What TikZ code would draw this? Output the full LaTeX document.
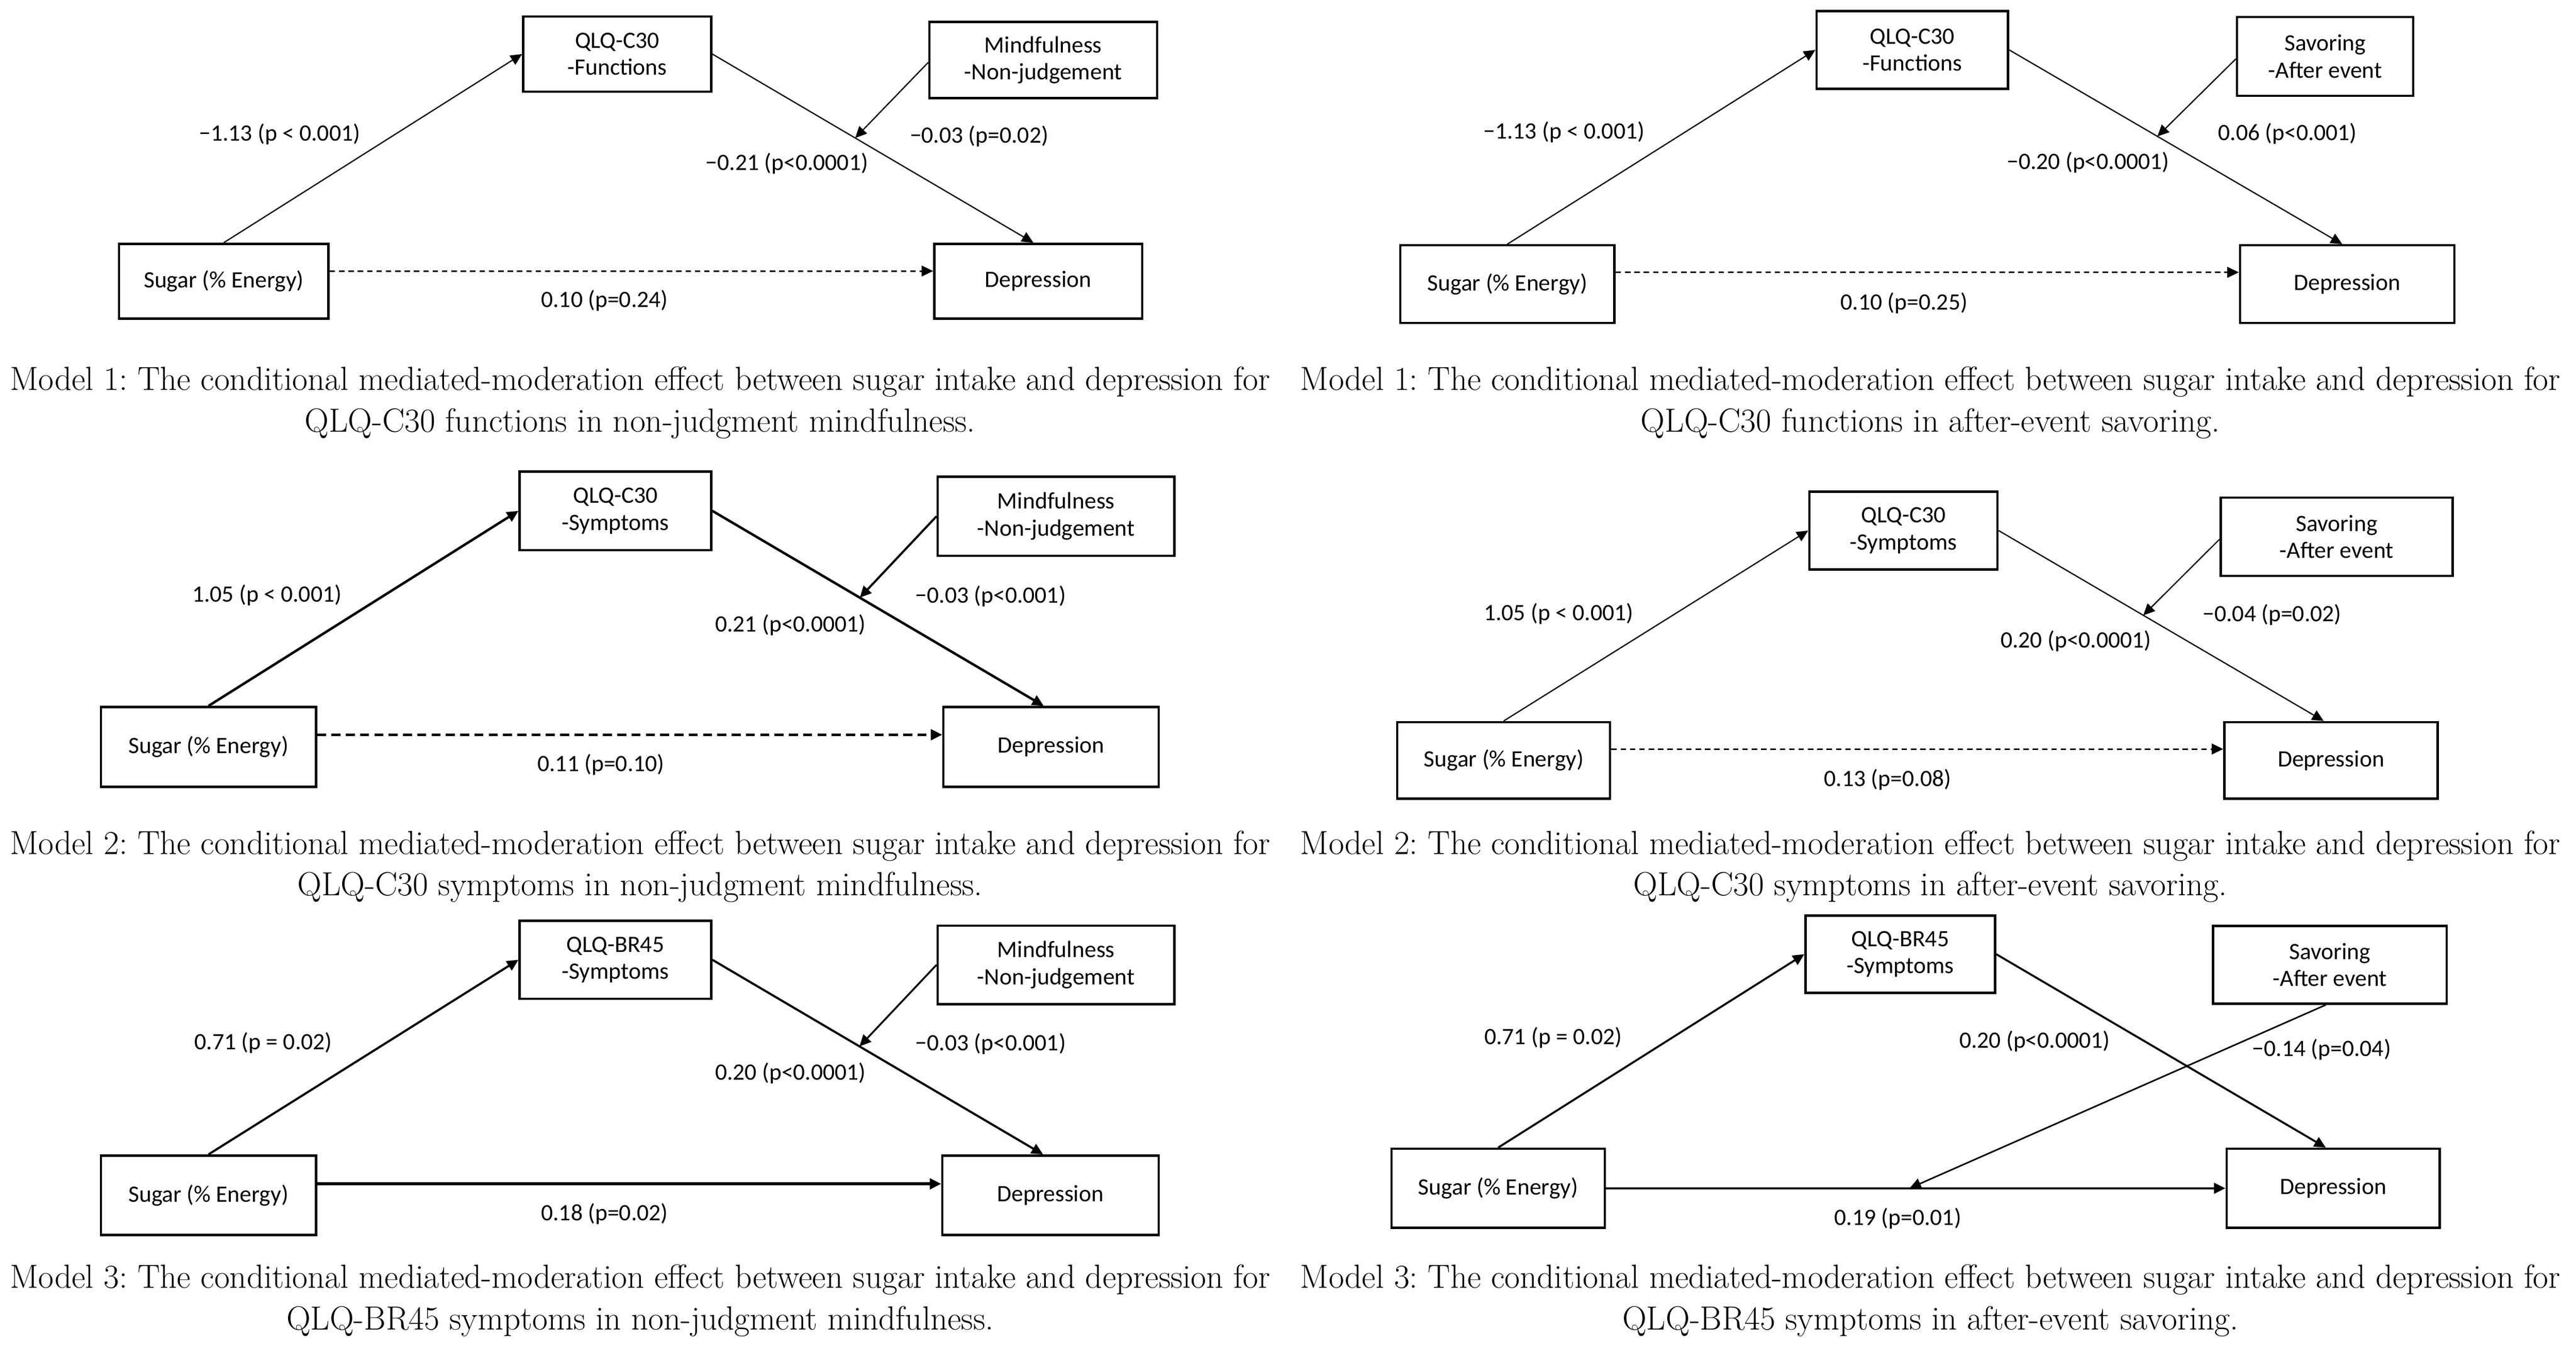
\documentclass[tikz,border=0pt]{standalone}
\usepackage{fontspec}
\usepackage{graphicx}
\newfontfamily\calibri{Carlito}
\usetikzlibrary{arrows.meta}
\newlength\capnat
\newcommand\captxt[1]{\scalebox{\capscale}{\fontsize{18}{19}\selectfont\frenchspacing #1}}
\begin{document}
\settowidth\capnat{\fontsize{18}{19}\selectfont\frenchspacing Model 1: The conditional mediated-moderation effect between sugar intake and depression for}%
\pgfmathsetmacro\capscaletmp{767/\capnat}%
\global\let\capscale\capscaletmp%
\begin{tikzpicture}[x=1pt,y=-1pt,
  >={Triangle[length=7pt,width=6.5pt]},
  box/.style={draw, line width=1.4pt, align=center, inner sep=0pt,
    font=\calibri\fontsize{14.3}{16.5}\selectfont},
  lbl/.style={inner sep=0pt, font=\calibri\fontsize{14.3}{16.5}\selectfont},
  capnode/.style={inner sep=0pt, anchor=base},
  lnA/.style={line width=0.75pt},
  dashA/.style={dash pattern=on 3.3pt off 2.4pt},
  dashB/.style={dash pattern=on 5.5pt off 3.2pt}]
\useasboundingbox (0,0) rectangle (1568,819.25);
\fill[white] (0,0) rectangle (1568,819.25);

% ---------------- Model 1 left ----------------
\node[box, minimum width=114.4pt, minimum height=45.7pt] (q1) at (375.7,32.9) {QLQ-C30\\-Functions};
\node[box, minimum width=138.6pt, minimum height=46.4pt] (m1) at (635,36.5) {Mindfulness\\-Non-judgement};
\node[box, minimum width=127.5pt, minimum height=45.5pt] (s1) at (136.2,171.2) {Sugar (\% Energy)};
\node[box, minimum width=126.6pt, minimum height=45.5pt] (d1) at (632,171.2) {Depression};
\draw[->, lnA] (s1.north) -- (q1.west);
\draw[->, lnA] (q1.east) -- ([xshift=-3pt]d1.north) coordinate[pos=0.445] (t1);
\draw[->, lnA] ([yshift=-1.5pt]m1.west) -- (t1);
\draw[->, line width=0.85pt, dashA] ([yshift=6.2pt]s1.east) -- ([yshift=6.2pt]d1.west);
\node[lbl] (l1a) at (170.2,81.6) {−1.13 (p < 0.001)};
\node[lbl] (l1m) at (596,83) {−0.03 (p=0.02)};
\node[lbl] (l1b) at (479,99.5) {−0.21 (p<0.0001)};
\node[lbl] (l1c) at (368,183) {0.10 (p=0.24)};

% ---------------- Model 1 right ----------------
\node[box, minimum width=116.6pt, minimum height=47.4pt] (q2) at (1164,30.4) {QLQ-C30\\-Functions};
\node[box, minimum width=107.2pt, minimum height=48pt] (v2) at (1415.3,34.3) {Savoring\\-After event};
\node[box, minimum width=130.4pt, minimum height=47.3pt] (s2) at (917.5,173) {Sugar (\% Energy)};
\node[box, minimum width=130.5pt, minimum height=47.3pt] (d2) at (1428.7,173) {Depression};
\draw[->, lnA] (s2.north) -- (q2.west);
\draw[->, lnA] (q2.east) -- ([xshift=-3pt]d2.north) coordinate[pos=0.445] (t2);
\draw[->, lnA] ([yshift=-1.5pt]v2.west) -- (t2);
\draw[->, line width=0.85pt, dashA] ([yshift=7.2pt]s2.east) -- ([yshift=7.2pt]d2.west);
\node[lbl] (l2a) at (952,80.5) {−1.13 (p < 0.001)};
\node[lbl] (l2m) at (1392.4,81.5) {0.06 (p<0.001)};
\node[lbl] (l2b) at (1271,99) {−0.20 (p<0.0001)};
\node[lbl] (l2c) at (1159,184.4) {0.10 (p=0.25)};

% ---------------- Model 2 left ----------------
\node[box, minimum width=116.6pt, minimum height=47.8pt] (q3) at (374.6,311) {QLQ-C30\\-Symptoms};
\node[box, minimum width=144.1pt, minimum height=48.2pt] (m3) at (642.8,314.3) {Mindfulness\\-Non-judgement};
\node[box, minimum width=130.9pt, minimum height=48.5pt] (s3) at (126.9,454.7) {Sugar (\% Energy)};
\node[box, minimum width=131.1pt, minimum height=48.5pt] (d3) at (639.8,454.7) {Depression};
\draw[->, line width=1.5pt] (s3.north) -- (q3.west);
\draw[->, line width=1.5pt] (q3.east) -- ([xshift=-4.5pt]d3.north) coordinate[pos=0.445] (t3);
\draw[->, line width=1.3pt] (m3.west) -- (t3);
\draw[->, line width=1.6pt, dashB] ([yshift=7.4pt]s3.east) -- ([yshift=7.4pt]d3.west);
\node[lbl] (l3a) at (162.5,362.3) {1.05 (p < 0.001)};
\node[lbl] (l3m) at (603,363) {−0.03 (p<0.001)};
\node[lbl] (l3b) at (481.2,380.6) {0.21 (p<0.0001)};
\node[lbl] (l3c) at (365.8,465.6) {0.11 (p=0.10)};

% ---------------- Model 2 right ----------------
\node[box, minimum width=114.5pt, minimum height=47.3pt] (q4) at (1158.6,323) {QLQ-C30\\-Symptoms};
\node[box, minimum width=141.2pt, minimum height=47.7pt] (v4) at (1422.3,326.8) {Savoring\\-After event};
\node[box, minimum width=129.5pt, minimum height=46.6pt] (s4) at (915.3,462.9) {Sugar (\% Energy)};
\node[box, minimum width=129.9pt, minimum height=46.6pt] (d4) at (1418.9,462.9) {Depression};
\draw[->, lnA] (s4.north) -- (q4.west);
\draw[->, lnA] (q4.east) -- ([xshift=-4.5pt]d4.north) coordinate[pos=0.445] (t4);
\draw[->, lnA] ([yshift=-1.5pt]v4.west) -- (t4);
\draw[->, line width=1pt, dashA] ([yshift=6.9pt]s4.east) -- ([yshift=6.9pt]d4.west);
\node[lbl] (l4a) at (948.7,373.5) {1.05 (p < 0.001)};
\node[lbl] (l4m) at (1383,374.2) {−0.04 (p=0.02)};
\node[lbl] (l4b) at (1263.6,390.4) {0.20 (p<0.0001)};
\node[lbl] (l4c) at (1149,474.7) {0.13 (p=0.08)};

% ---------------- Model 3 left ----------------
\node[box, minimum width=116.6pt, minimum height=47.5pt] (q5) at (374.6,584.3) {QLQ-BR45\\-Symptoms};
\node[box, minimum width=144.1pt, minimum height=47.9pt] (m5) at (642.8,587.4) {Mindfulness\\-Non-judgement};
\node[box, minimum width=130.9pt, minimum height=48.4pt] (s5) at (126.9,727.7) {Sugar (\% Energy)};
\node[box, minimum width=131.6pt, minimum height=48.4pt] (d5) at (639.4,727.7) {Depression};
\draw[->, line width=1.3pt] (s5.north) -- (q5.west);
\draw[->, line width=1.3pt] (q5.east) -- ([xshift=-4.5pt]d5.north) coordinate[pos=0.445] (t5);
\draw[->, line width=1.1pt] (m5.west) -- (t5);
\draw[->, line width=1.7pt] ([yshift=7pt]s5.east) -- ([yshift=7pt]d5.west);
\node[lbl] (l5a) at (160.3,635) {0.71 (p = 0.02)};
\node[lbl] (l5m) at (603,635.6) {−0.03 (p<0.001)};
\node[lbl] (l5b) at (481.2,653.5) {0.20 (p<0.0001)};
\node[lbl] (l5c) at (368,739.1) {0.18 (p=0.02)};

% ---------------- Model 3 right ----------------
\node[box, minimum width=115.4pt, minimum height=47pt] (q6) at (1156.7,580.9) {QLQ-BR45\\-Symptoms};
\node[box, minimum width=142.2pt, minimum height=47.3pt] (v6) at (1418.2,587.4) {Savoring\\-After event};
\node[box, minimum width=129.9pt, minimum height=48.1pt] (s6) at (911.9,723.4) {Sugar (\% Energy)};
\node[box, minimum width=129.8pt, minimum height=48.1pt] (d6) at (1420.2,723.4) {Depression};
\draw[->, line width=1.2pt] (s6.north) -- (q6.west);
\draw[->, line width=1.2pt] (q6.east) -- ([xshift=-4.5pt]d6.north);
\draw[->, line width=1.3pt] (s6.east) -- (d6.west) coordinate[pos=0.49] (t6);
\draw[->, line width=0.95pt] ([xshift=-2.5pt]v6.south) -- (t6);
\node[lbl] (l6a) at (945.4,631.6) {0.71 (p = 0.02)};
\node[lbl] (l6b) at (1238.5,634) {0.20 (p<0.0001)};
\node[lbl] (l6m) at (1413.2,639) {−0.14 (p=0.04)};
\node[lbl] (l6c) at (1155.2,741.8) {0.19 (p=0.01)};

% ---------------- Captions ----------------
\node[capnode] (c1a) at (389.6,237.6) {\captxt{Model 1: The conditional mediated-moderation effect between sugar intake and depression for}};
\node[capnode] (c1b) at (389.6,262.8) {\captxt{QLQ-C30 functions in non-judgment mindfulness.}};
\node[capnode] (c2a) at (1175,237.6) {\captxt{Model 1: The conditional mediated-moderation effect between sugar intake and depression for}};
\node[capnode] (c2b) at (1175,262.8) {\captxt{QLQ-C30 functions in after-event savoring.}};
\node[capnode] (c3a) at (389.6,520.1) {\captxt{Model 2: The conditional mediated-moderation effect between sugar intake and depression for}};
\node[capnode] (c3b) at (389.6,545.3) {\captxt{QLQ-C30 symptoms in non-judgment mindfulness.}};
\node[capnode] (c4a) at (1175,520.1) {\captxt{Model 2: The conditional mediated-moderation effect between sugar intake and depression for}};
\node[capnode] (c4b) at (1175,545.3) {\captxt{QLQ-C30 symptoms in after-event savoring.}};
\node[capnode] (c5a) at (389.6,784.1) {\captxt{Model 3: The conditional mediated-moderation effect between sugar intake and depression for}};
\node[capnode] (c5b) at (389.6,809.4) {\captxt{QLQ-BR45 symptoms in non-judgment mindfulness.}};
\node[capnode] (c6a) at (1175,784.1) {\captxt{Model 3: The conditional mediated-moderation effect between sugar intake and depression for}};
\node[capnode] (c6b) at (1175,809.4) {\captxt{QLQ-BR45 symptoms in after-event savoring.}};
\end{tikzpicture}
\end{document}
